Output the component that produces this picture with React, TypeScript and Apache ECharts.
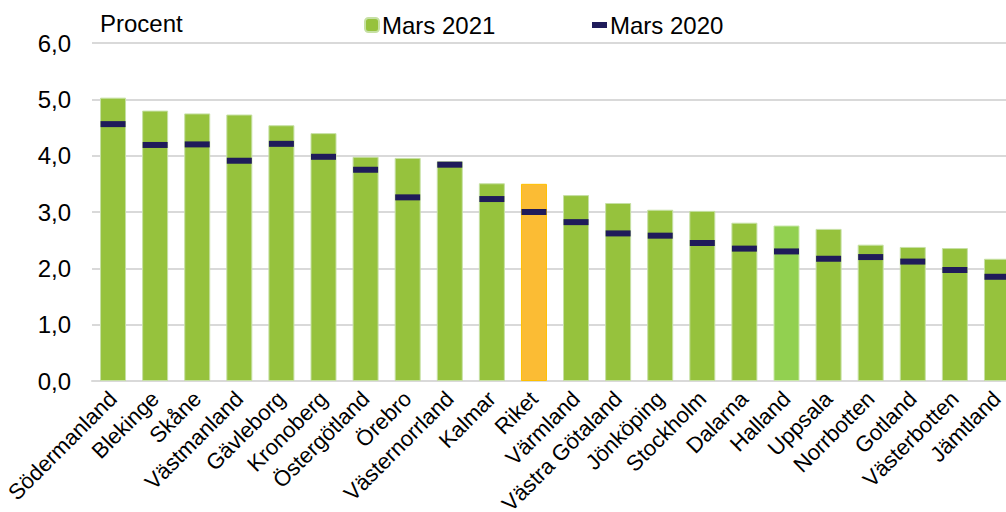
import React, { useEffect, useRef } from "react";
import * as echarts from "echarts";

const categories = [
  "Södermanland", "Blekinge", "Skåne", "Västmanland", "Gävleborg", "Kronoberg",
  "Östergötland", "Örebro", "Västernorrland", "Kalmar", "Riket", "Värmland",
  "Västra Götaland", "Jönköping", "Stockholm", "Dalarna", "Halland", "Uppsala",
  "Norrbotten", "Gotland", "Västerbotten", "Jämtland",
];
const mars2021 = [
  5.03, 4.8, 4.75, 4.73, 4.54, 4.4, 3.98, 3.96, 3.9, 3.51, 3.5, 3.3,
  3.16, 3.04, 3.02, 2.81, 2.76, 2.7, 2.42, 2.38, 2.36, 2.17,
];
const mars2020 = [
  4.56, 4.19, 4.2, 3.91, 4.21, 3.98, 3.75, 3.26, 3.84, 3.23, 3.0, 2.82,
  2.62, 2.58, 2.45, 2.35, 2.3, 2.17, 2.2, 2.12, 1.97, 1.85,
];
const yTicks = [0, 1, 2, 3, 4, 5, 6];

const FONT = "'Liberation Sans', Arial, sans-serif";
const GREEN = "#96C23D";
const ORANGE = "#FBBC34";
const LIGHT_GREEN = "#92D050";
const NAVY = "#1F1B5A";

export default function App() {
  const ref = useRef<HTMLDivElement>(null);
  useEffect(() => {
    if (!ref.current) return;
    const chart = echarts.init(ref.current, undefined, { renderer: "svg" });
    const barData = mars2021.map((v, i) => {
      const name = categories[i];
      if (name === "Riket") {
        return { value: v, itemStyle: { color: ORANGE, borderColor: "#FFC000" } };
      }
      if (name === "Halland") {
        return { value: v, itemStyle: { color: LIGHT_GREEN, borderColor: "#C8E8A8" } };
      }
      return v;
    });
    chart.setOption({
      animation: false,
      textStyle: { fontFamily: FONT },
      title: {
        text: "Procent",
        left: 95,
        top: 6,
        textStyle: { fontFamily: FONT, fontSize: 24, fontWeight: "normal", color: "#000" },
      },
      legend: [
        {
          data: ["Mars 2021"],
          left: 359,
          top: 8,
          itemWidth: 14,
          itemHeight: 14,
          itemGap: 4,
          textStyle: { fontFamily: FONT, fontSize: 24, color: "#000", padding: [0, 0, 0, -2] },
        },
        {
          data: [{ name: "Mars 2020", icon: "rect" }],
          left: 587,
          top: 8,
          itemWidth: 15,
          itemHeight: 6,
          itemStyle: { color: NAVY, opacity: 1 },
          textStyle: { fontFamily: FONT, fontSize: 24, color: "#000", padding: [0, 0, 0, -2] },
        },
      ],
      grid: {
        left: 92,
        top: 43,
        width: 926,
        bottom: 131,
        containLabel: false,
        outerBoundsMode: "none",
      },
      xAxis: {
        type: "category",
        data: categories,
        axisTick: { show: false },
        axisLine: { show: true, lineStyle: { color: "#D9D9D9", width: 2 } },
        axisLabel: {
          interval: 0,
          rotate: 45,
          margin: 14,
          fontFamily: FONT,
          fontSize: 22,
          color: "#000",
        },
      },
      yAxis: {
        type: "value",
        min: yTicks[0],
        max: yTicks[yTicks.length - 1],
        interval: 1,
        axisLine: { show: false },
        axisTick: { show: false },
        splitLine: { lineStyle: { color: "#D9D9D9", width: 2 } },
        axisLabel: {
          margin: 21,
          fontFamily: FONT,
          fontSize: 24,
          color: "#000",
          formatter: (v: number) => v.toFixed(1).replace(".", ","),
        },
      },
      series: [
        {
          name: "Mars 2021",
          type: "bar",
          data: barData,
          barWidth: 26,
          itemStyle: { color: GREEN, borderColor: "#C6E0A4", borderWidth: 1 },
        },
        {
          name: "Mars 2020",
          type: "scatter",
          data: mars2020,
          symbol: "rect",
          symbolSize: [25, 6],
          itemStyle: { color: NAVY, opacity: 1 },
          z: 5,
        },
      ],
    });
    return () => chart.dispose();
  }, []);
  return (
    <div
      ref={ref}
      style={{ position: "absolute", left: 0, top: 0, width: 1006, height: 512 }}
    />
  );
}
